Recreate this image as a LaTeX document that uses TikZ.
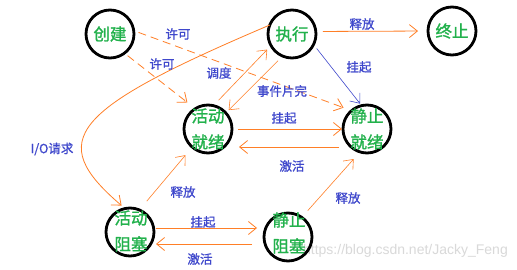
\documentclass[tikz,border=0pt]{standalone}
\usepackage{fontspec}
\setmainfont{Noto Sans CJK SC}
\newfontfamily\statefont[FakeBold=1.4]{Noto Sans CJK SC}
\newfontfamily\labfont[FakeBold=1]{Noto Sans CJK SC}
\newfontfamily\markfont{Liberation Sans}
\usetikzlibrary{arrows.meta,calc}
\definecolor{stategreen}{RGB}{34,177,76}
\definecolor{labblue}{RGB}{63,72,204}
\definecolor{edgeorange}{RGB}{255,127,39}
\tikzset{
  state/.style={circle,draw=black,line width=2.8pt,minimum size=48pt,inner sep=0pt,outer sep=0pt},
  statetext/.style={text=stategreen,font=\statefont\fontsize{16.5}{26}\selectfont,align=center,inner sep=0pt},
  lab/.style={text=labblue,font=\labfont\fontsize{12.5}{14}\selectfont,inner sep=0pt},
  edge/.style={draw=edgeorange,line width=0.8pt,-{Straight Barb[length=8pt,width=13pt]}},
  dashededge/.style={edge,dash pattern=on 8pt off 5pt},
  blueedge/.style={edge,draw=labblue,line width=0.6pt},
}
\begin{document}
\begin{tikzpicture}[x=1pt,y=-1pt]
\useasboundingbox[fill=white] (0,0) rectangle (517,270);

% watermark
\node[anchor=east,inner sep=0pt,text=gray!30,font=\markfont\fontsize{14}{16}\selectfont] (wm) at (508,251) {https://blog.csdn.net/Jacky\_Feng};

% states
\node[state] (cj) at (110,34) {};
\node[state] (zx) at (292,34) {};
\node[state] (zz) at (452,31) {};
\node[state] (hdjx) at (208,129) {};
\node[state] (jzjx) at (367,129) {};
\node[state] (hdzs) at (130,232) {};
\node[state] (jzzs) at (288,237) {};

\node[statetext] (cj-t) at (cj) {创建};
\node[statetext] (zx-t) at (zx) {执行};
\node[statetext] (zz-t) at (zz) {终止};
\node[statetext] (hdjx-t) at (hdjx) {活动\\就绪};
\node[statetext] (jzjx-t) at (jzjx) {静止\\就绪};
\node[statetext] (hdzs-t) at (131,231) {活动\\阻塞};
\node[statetext] (jzzs-t) at (289,233) {静止\\阻塞};

% transitions
\draw[dashededge,shorten <=4pt,shorten >=10pt] (cj.-53.5) -- (hdjx.122);
\draw[dashededge,shorten <=5pt,shorten >=8.5pt] (cj.8) -- (jzjx.130);
\draw[edge,shorten <=7pt,shorten >=10pt] (zx.6) -- (zz.180);
\draw[blueedge,shorten <=5pt,shorten >=2.5pt] (zx.-26.6) -- (jzjx.103);
\draw[edge,line width=0.6pt,shorten <=7.5pt,shorten >=5.5pt] (hdjx.77) -- (zx.-151.7);
\draw[edge,line width=0.6pt,shorten <=6.5pt,shorten >=4pt] (zx.-113) -- (hdjx.42);
\draw[edge,shorten <=6pt,shorten >=1pt] (hdjx.east) -- (jzjx.west);
\draw[edge] ($(jzjx.center)+(-28,18)$) -- ($(hdjx.center)+(31,18)$);
\draw[edge,shorten >=4.5pt] (zx.158) .. controls (70,110) and (45,140) .. (hdzs.102);
\draw[edge,line width=0.6pt,shorten <=11.5pt,shorten >=10.5pt] (hdzs.67) -- (hdjx.-131.5);
\draw[edge,shorten <=2pt,shorten >=7pt] ($(hdzs.east)+(0,-4)$) -- ($(jzzs.west |- hdzs.east)+(0,-4)$);
\draw[edge,shorten >=2pt] ($(jzzs.west)+(-12,7)$) -- ($(hdzs.east |- jzzs.west)+(0,7)$);
\draw[edge,line width=0.6pt,shorten <=9pt,shorten >=9.5pt] (jzzs.55) -- (jzjx.-107);

% transition labels
\node[lab] (l1) at (178,34) {许可};
\node[lab] (l2) at (162,64) {许可};
\node[lab] (l3) at (362,24) {释放};
\node[lab] (l4) at (359,67) {挂起};
\node[lab] (l5) at (219,73) {调度};
\node[lab] (l6) at (282,91) {事件片完};
\node[lab] (l7) at (284,118) {挂起};
\node[lab] (l8) at (292,166) {激活};
\node[lab] (l9) at (52,149) {I/O请求};
\node[lab] (l10) at (183,192) {释放};
\node[lab] (l11) at (203,222) {挂起};
\node[lab] (l12) at (200,259) {激活};
\node[lab] (l13) at (348,198) {释放};
\end{tikzpicture}
\end{document}
